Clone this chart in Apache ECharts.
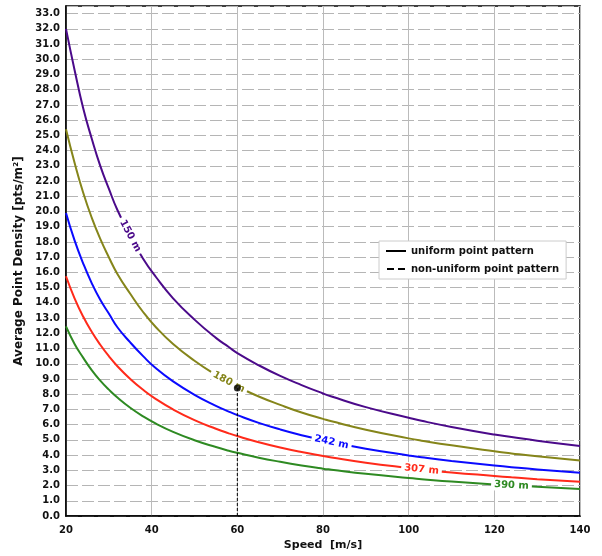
<!DOCTYPE html>
<html>
<head>
<meta charset="UTF-8">
<script src="https://cdn.jsdelivr.net/npm/echarts@6/dist/echarts.min.js"></script>
<style>
html, body { margin: 0; padding: 0; background: #fff; }
#main { width: 602px; height: 556px; }
</style>
</head>
<body>
<div id="main"></div>
<script>
var speeds = [20, 22, 24, 26, 28, 30, 32, 35, 38, 41, 45, 50, 55, 58, 60, 65, 70, 75, 80, 82, 90, 100, 103, 110, 120, 124, 130, 140];
// average point density [pts/m2] per flying height
var h150 = [32.0, 29.3, 26.8, 24.8, 23.0, 21.5, 20.1, 18.4, 16.9, 15.7, 14.3, 12.9, 11.7, 11.1, 10.7, 9.9, 9.2, 8.6, 8.05, 7.85, 7.15, 6.45, 6.25, 5.85, 5.35, 5.19, 4.95, 4.6];
var h180 = [25.4, 23.2, 21.25, 19.6, 18.2, 17.0, 15.9, 14.6, 13.4, 12.4, 11.3, 10.2, 9.27, 8.8, 8.5, 7.85, 7.3, 6.8, 6.38, 6.22, 5.67, 5.1, 4.95, 4.64, 4.25, 4.11, 3.92, 3.65];
var h242 = [19.9, 18.1, 16.6, 15.3, 14.2, 13.3, 12.4, 11.4, 10.5, 9.7, 8.84, 7.96, 7.24, 6.86, 6.63, 6.12, 5.69, 5.31, 4.98, 4.85, 4.42, 3.98, 3.86, 3.62, 3.32, 3.21, 3.06, 2.84];
var h307 = [15.75, 14.3, 13.1, 12.1, 11.25, 10.5, 9.84, 9.0, 8.29, 7.68, 7.0, 6.3, 5.73, 5.43, 5.25, 4.85, 4.5, 4.2, 3.94, 3.84, 3.5, 3.15, 3.06, 2.86, 2.63, 2.54, 2.42, 2.25];
var h390 = [12.45, 11.3, 10.4, 9.58, 8.89, 8.3, 7.78, 7.11, 6.55, 6.07, 5.53, 4.98, 4.53, 4.29, 4.15, 3.83, 3.56, 3.32, 3.11, 3.04, 2.77, 2.49, 2.42, 2.26, 2.07, 2.01, 1.92, 1.78];
var curveNames = ['150 m', '180 m', '242 m', '307 m', '390 m'];
var labelSpeed = [35, 58, 82, 103, 124];   // where the inline label sits
var labelRotate = [-62, -28, -12, -6, -3];
var colors = ['#4b0a8a', '#85851a', '#0a0aff', '#ff2a1a', '#2e8a22'];
var marker = [60, 8.4];   // highlighted point

var curves = [h150, h180, h242, h307, h390];
var font = 'DejaVu Sans';

var series = [];
curves.forEach(function (vals, i) {
  var data = speeds.map(function (s, j) {
    var item = { value: [s, vals[j]], symbol: 'none' };
    if (s === labelSpeed[i]) {
      // tiny symbol so the inline label gets drawn
      item.symbol = 'circle';
      item.symbolSize = 1;
      item.label = {
        show: true, position: 'inside', formatter: curveNames[i],
        rotate: labelRotate[i], color: colors[i], fontFamily: font,
        fontWeight: 'bold', fontSize: 10, backgroundColor: '#fff',
        padding: [1, 3]
      };
    }
    return item;
  });
  series.push({
    type: 'line', name: curveNames[i], data: data, smooth: true,
    showSymbol: true, showAllSymbol: true,
    itemStyle: { color: colors[i] },
    lineStyle: { color: colors[i], width: 2 }, z: 3
  });
});

// vertical guide down to the axis + dot
series.push({
  type: 'line', data: [[marker[0], 0], [marker[0], marker[1]]], symbol: 'none',
  lineStyle: { color: '#000', width: 1, type: [3, 2] }, z: 4, silent: true
});
series.push({
  type: 'scatter', data: [marker], symbolSize: 7,
  itemStyle: { color: '#000' }, z: 5
});
// legend-only entries
series.push({ type: 'line', name: 'uniform point pattern', data: [], symbol: 'none',
  lineStyle: { color: '#000', width: 2 }, itemStyle: { color: '#000' } });
series.push({ type: 'line', name: 'non-uniform point pattern', data: [], symbol: 'none',
  lineStyle: { color: '#000', width: 2, type: [5, 3] }, itemStyle: { color: '#000' } });

var chart = echarts.init(document.getElementById('main'));
chart.setOption({
  animation: false,
  grid: { left: 66, right: 22, top: 6, bottom: 40, show: true,
    borderColor: '#000', borderWidth: 1.5, backgroundColor: 'transparent' },
  legend: {
    data: [
      { name: 'uniform point pattern', icon: 'rect' },
      { name: 'non-uniform point pattern', icon: 'path://M0,0H7V2H0Z M11,0H18V2H11Z' }
    ],
    orient: 'vertical', left: 379, top: 241, itemWidth: 20, itemHeight: 2,
    itemGap: 8, padding: [5, 7], backgroundColor: '#fff',
    borderColor: '#ccc', borderWidth: 1,
    textStyle: { fontFamily: font, fontSize: 10, fontWeight: 'bold', color: '#111' }
  },
  xAxis: {
    type: 'value', min: 20, max: 140, interval: 20,
    name: 'Speed  [m/s]', nameLocation: 'middle', nameGap: 23,
    nameTextStyle: { fontFamily: font, fontWeight: 'bold', fontSize: 11, color: '#111' },
    axisLine: { lineStyle: { color: '#000', width: 1.5 } },
    axisTick: { show: false },
    axisLabel: { fontFamily: font, fontWeight: 'bold', fontSize: 10, color: '#111', margin: 9 },
    splitLine: { show: true, lineStyle: { color: '#bbb', width: 1 } }
  },
  yAxis: {
    type: 'value', min: 0, max: 33.5, interval: 1,
    name: 'Average Point Density [pts/m²]', nameLocation: 'middle', nameGap: 39,
    nameTextStyle: { fontFamily: font, fontWeight: 'bold', fontSize: 12, color: '#111' },
    axisLine: { lineStyle: { color: '#000', width: 1.5 } },
    axisTick: { show: false },
    axisLabel: { fontFamily: font, fontWeight: 'bold', fontSize: 10, color: '#111',
      margin: 6, showMaxLabel: false,
      formatter: function (v) { return v.toFixed(1); } },
    splitLine: { show: true, lineStyle: { color: '#b5b5b5', width: 1, type: [12, 4] } }
  },
  series: series
});
</script>
</body>
</html>
